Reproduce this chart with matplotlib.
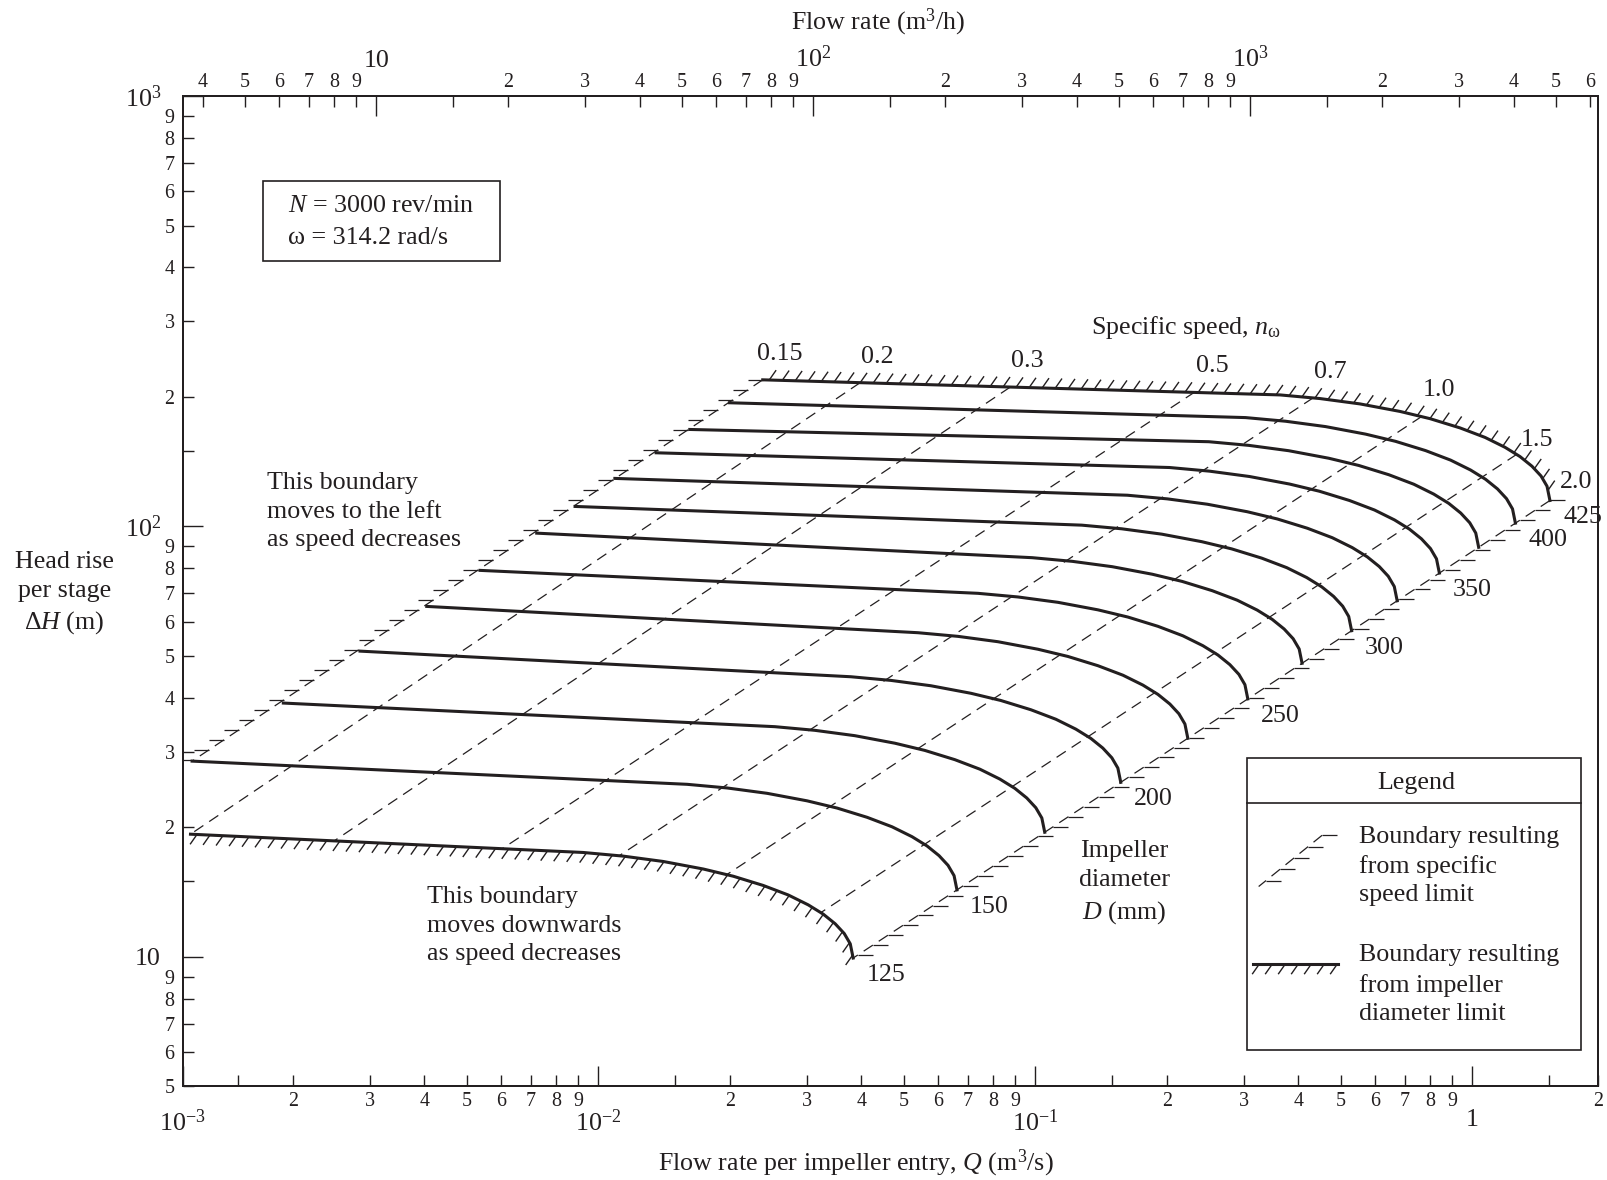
import numpy as np
import matplotlib
matplotlib.use('Agg')
import matplotlib.pyplot as plt
from matplotlib.collections import LineCollection
from matplotlib.patches import Rectangle

plt.rcParams['font.family'] = 'Liberation Serif'
plt.rcParams['mathtext.fontset'] = 'custom'
plt.rcParams['mathtext.rm'] = 'Liberation Serif'
plt.rcParams['mathtext.it'] = 'Liberation Serif:italic'
plt.rcParams['lines.scale_dashes'] = False

TINTA = '#231f20'
PT = 100 / 72.0  # pixeles por punto a dpi 100

# Diametros de rodete (mm)
diametros = [125, 150, 175, 200, 225, 250, 275, 300, 325, 350, 375, 400, 425]
d_etiquetas = [125, 150, 200, 250, 300, 350, 400, 425]
D_REF = 425

# Punto de arranque de cada curva (sobre el limite izquierdo)
q_inicio = [1.166e-3, 1.176e-3, 1.902e-3, 2.849e-3, 4.049e-3, 5.362e-3, 7.228e-3,
            8.846e-3, 0.01091, 0.01356, 0.01619, 0.01995, 0.02378]
h_inicio = [19.28, 28.50, 38.88, 51.33, 65.20, 79.06, 96.48,
            111.3, 129.3, 148.3, 168.0, 193.8, 219.1]

# Tramo curvo de la curva de 425 mm (del codo al limite n = 2.0); las demas
# curvas lo repiten por semejanza (Q ~ D^3, H ~ D^2)
q_codo = [0.3631, 0.4482, 0.5534, 0.6833, 0.8001, 0.9373, 1.0693, 1.1880,
          1.2858, 1.3693, 1.4360, 1.4822, 1.505]
h_codo = [202.1, 198.2, 192.6, 185.0, 178.0, 169.4, 161.0, 152.7,
          145.3, 138.0, 131.0, 124.0, 114.9]

# Lineas de velocidad especifica: extremo superior (curva 425) e inferior (curva 125)
ns_valores = ['0.15', '0.2', '0.3', '0.5', '0.7', '1.0', '1.5', '2.0']
ns_q = [0.02378, 0.03971, 0.08753, 0.2319, 0.4327, 0.7659, 1.2637, 1.505]
ns_h = [219.1, 215.7, 210.6, 205.4, 199.1, 180.1, 147.1, 114.9]
ns_q_bajo = [1.176e-3, 1.166e-3, 2.472e-3, 6.031e-3, 0.01116, 0.01956, 0.03228, 0.03829]
ns_h_bajo = [28.50, 19.28, 18.53, 17.85, 17.18, 15.47, 12.67, 9.939]
ns_desfase = [(12.2, 18.7)] * 6 + [(14.4, 10.4), (19.2, 13.2)]

# Limites de los ejes
Q_MIN, Q_MAX = 1.118e-3, 1.942
H_MIN, H_MAX = 5, 1000
M3H_MIN = 3.6

# Marcas de los ejes
x_may = [Q_MIN, 1e-2, 1e-1, 1]
x_may_txt = ['$10^{-3}$', '$10^{-2}$', '$10^{-1}$', '1']
x_men, x_men_txt = [], []
for e in (-3, -2, -1, 0):
    for m in (1.5, 2, 3, 4, 5, 6, 7, 8, 9):
        if e == 0 and m > 1.5:
            break
        x_men.append(m * 10.0 ** e)
        x_men_txt.append('' if m == 1.5 else str(m))
x_men.append(Q_MAX)
x_men_txt.append('2')

y_may = [10, 100, 1000]
y_may_txt = ['10', '$10^2$', '$10^3$']
y_men = [5, 6, 7, 8, 9]
y_men_txt = ['5', '6', '7', '8', '9']
for e in (1, 2):
    for m in (1.5, 2, 3, 4, 5, 6, 7, 8, 9):
        y_men.append(m * 10 ** e)
        y_men_txt.append('' if m == 1.5 else str(m))

t_may = [10, 100, 1000]
t_may_txt = ['10', '$10^2$', '$10^3$']
t_men = [4, 5, 6, 7, 8, 9]
t_men_txt = ['4', '5', '6', '7', '8', '9']
for e in (1, 2, 3):
    for m in (1.5, 2, 3, 4, 5, 6, 7, 8, 9):
        if e == 3 and m > 6:
            break
        t_men.append(m * 10 ** e)
        t_men_txt.append('' if m == 1.5 else str(m))


def rayado(ax, q, h, lado, tr=None, paso=13.0, largo=12.0, ang=55):
    # rayitas inclinadas a lo largo de una curva (limite por diametro)
    tr = tr or ax.transData
    p = tr.transform(np.column_stack([q, h]))
    s = np.r_[0, np.cumsum(np.hypot(*np.diff(p, axis=0).T))]
    t = np.arange(paso / 2, s[-1], paso)
    x = np.interp(t, s, p[:, 0])
    y = np.interp(t, s, p[:, 1])
    dx = lado * largo * np.cos(np.radians(ang))
    dy = lado * largo * np.sin(np.radians(ang))
    inv = tr.inverted()
    segs = [inv.transform([[xi, yi], [xi + dx, yi + dy]]) for xi, yi in zip(x, y)]
    ax.add_collection(LineCollection(segs, colors=TINTA, linewidths=1.0, transform=tr),
                      autolim=False)


def limite_ns(ax, q, h, lado, tr=None, paso=18.0, largo=15.0):
    # linea discontinua con trazos horizontales (limite por velocidad especifica)
    tr = tr or ax.transData
    ax.plot(q, h, color=TINTA, lw=0.9, ls=(0, (11 / PT, 7 / PT)), transform=tr)
    p = tr.transform(np.column_stack([q, h]))
    v = p[1] - p[0]
    L = np.hypot(*v)
    u = v / L
    inv = tr.inverted()
    segs = []
    for s in np.arange(0, L, paso):
        a = p[0] + u * s
        segs.append(inv.transform([a, a + np.array([lado * largo, 0])]))
    ax.add_collection(LineCollection(segs, colors=TINTA, linewidths=0.9, transform=tr),
                      autolim=False)


fig = plt.figure(figsize=(16.07, 11.80), dpi=100)
ax = fig.add_axes([0.11357, 0.07924, 0.88102, 0.83941])
ax.set_xscale('log')
ax.set_yscale('log')
ax.set_xlim(Q_MIN, Q_MAX)
ax.set_ylim(H_MIN, H_MAX)

qc = np.array(q_codo)
hc = np.array(h_codo)

# curvas de diametro constante
curvas = {}
for d, q0, h0 in zip(diametros, q_inicio, h_inicio):
    r = d / D_REF
    q = np.r_[q0, qc * r ** 3]
    h = np.r_[h0, hc * r ** 2]
    curvas[d] = (q, h)
    ax.plot(q, h, color=TINTA, lw=2.2)

rayado(ax, *curvas[max(diametros)], +1)
rayado(ax, *curvas[min(diametros)], -1)

# lineas de velocidad especifica
for i in range(len(ns_valores)):
    qq = [ns_q[i], ns_q_bajo[i]]
    hh = [ns_h[i], ns_h_bajo[i]]
    if i == 0:
        limite_ns(ax, qq, hh, -1)
    elif i == len(ns_valores) - 1:
        limite_ns(ax, qq, hh, +1)
    else:
        ax.plot(qq, hh, color=TINTA, lw=0.9, ls=(0, (11 / PT, 7 / PT)))
    ax.annotate(ns_valores[i], (ns_q[i], ns_h[i]), xytext=ns_desfase[i],
                textcoords='offset points', ha='center', va='center',
                fontsize=18.7, color=TINTA)

# etiquetas de diametro al final de las curvas
for d in d_etiquetas:
    q, h = curvas[d]
    ax.annotate(str(d), (q[-1], h[-1]), xytext=(9.5, -12.2), textcoords='offset points',
                ha='left', va='center', fontsize=18.7, color=TINTA)

kw = dict(fontsize=18.7, color=TINTA, transform=ax.transAxes)
ax.text(0.7088, 0.7658, 'Specific speed, $n_{\\mathrm{\\omega}}$', ha='center', va='center', **kw)
ax.text(0.060, 0.5805, 'This boundary\nmoves to the left\nas speed decreases',
        ha='left', va='center', linespacing=1.4, **kw)
ax.text(0.1727, 0.1625, 'This boundary\nmoves downwards\nas speed decreases',
        ha='left', va='center', linespacing=1.4, **kw)
ax.text(0.6650, 0.2055, 'Impeller\ndiameter\n$D$ (mm)', ha='center', va='center',
        linespacing=1.4, **kw)

# recuadro de condiciones
ax.add_patch(Rectangle((0.0571, 0.8330), 0.1673, 0.0808, transform=ax.transAxes,
                       fill=False, ec=TINTA, lw=1.2))
ax.text(0.0745, 0.8890, '$N$ = 3000 rev/min', ha='left', va='center', **kw)
ax.text(0.0745, 0.8566, 'ω = 314.2 rad/s', ha='left', va='center', **kw)

# leyenda
ax.add_patch(Rectangle((0.7521, 0.03735), 0.2360, 0.2939, transform=ax.transAxes,
                       fill=False, ec=TINTA, lw=1.2))
ax.plot([0.7521, 0.9881], [0.2867, 0.2867], transform=ax.transAxes, color=TINTA, lw=1.2)
ax.text(0.8715, 0.3064, 'Legend', ha='center', va='center', **kw)
limite_ns(ax, [0.8049, 0.7601], [0.2536, 0.2019], +1, tr=ax.transAxes)
ax.text(0.8310, 0.2226, 'Boundary resulting\nfrom specific\nspeed limit',
        ha='left', va='center', linespacing=1.4, **kw)
ax.plot([0.7558, 0.8158], [0.1233, 0.1233], transform=ax.transAxes, color=TINTA, lw=2.2)
rayado(ax, [0.7558, 0.8158], [0.1233, 0.1233], -1, tr=ax.transAxes)
ax.text(0.8310, 0.1025, 'Boundary resulting\nfrom impeller\ndiameter limit',
        ha='left', va='center', linespacing=1.4, **kw)

# ejes
ax.set_xticks(x_may, x_may_txt)
ax.set_xticks(x_men, x_men_txt, minor=True)
ax.set_yticks(y_may, y_may_txt)
ax.set_yticks(y_men, y_men_txt, minor=True)
ax.tick_params(which='both', direction='in', colors=TINTA, width=1.0, top=False, right=False)
ax.tick_params(which='major', length=14.4, labelsize=18.7)
ax.tick_params(which='minor', length=8, labelsize=14.4)
ax.tick_params(axis='x', which='major', pad=16.5)
ax.tick_params(axis='x', which='minor', pad=4.3)
ax.tick_params(axis='y', which='major', pad=15.5)
ax.tick_params(axis='y', which='minor', pad=5.8)

ax2 = ax.twiny()
ax2.set_xscale('log')
ax2.set_xlim(M3H_MIN, M3H_MIN * Q_MAX / Q_MIN)
ax2.set_xticks(t_may, t_may_txt)
ax2.set_xticks(t_men, t_men_txt, minor=True)
ax2.tick_params(which='both', direction='in', colors=TINTA, width=1.0)
ax2.tick_params(which='major', length=14.4, labelsize=18.7, pad=17.5)
ax2.tick_params(which='minor', length=8, labelsize=14.4, pad=3)

for a in (ax, ax2):
    for sp in a.spines.values():
        sp.set_linewidth(1.4)
        sp.set_color(TINTA)

fig.text(0.5464, 0.9809, 'Flow rate (m$^3$/h)', ha='center', va='center', fontsize=18.7, color=TINTA)
fig.text(0.5326, 0.01415, 'Flow rate per impeller entry, $Q$ (m$^3$/s)', ha='center', va='center',
         fontsize=18.7, color=TINTA)
fig.text(0.0402, 0.4971, 'Head rise\nper stage\nΔ$H$ (m)', ha='center', va='center',
         linespacing=1.4, fontsize=18.7, color=TINTA)

fig.savefig('out.png', dpi=100)
